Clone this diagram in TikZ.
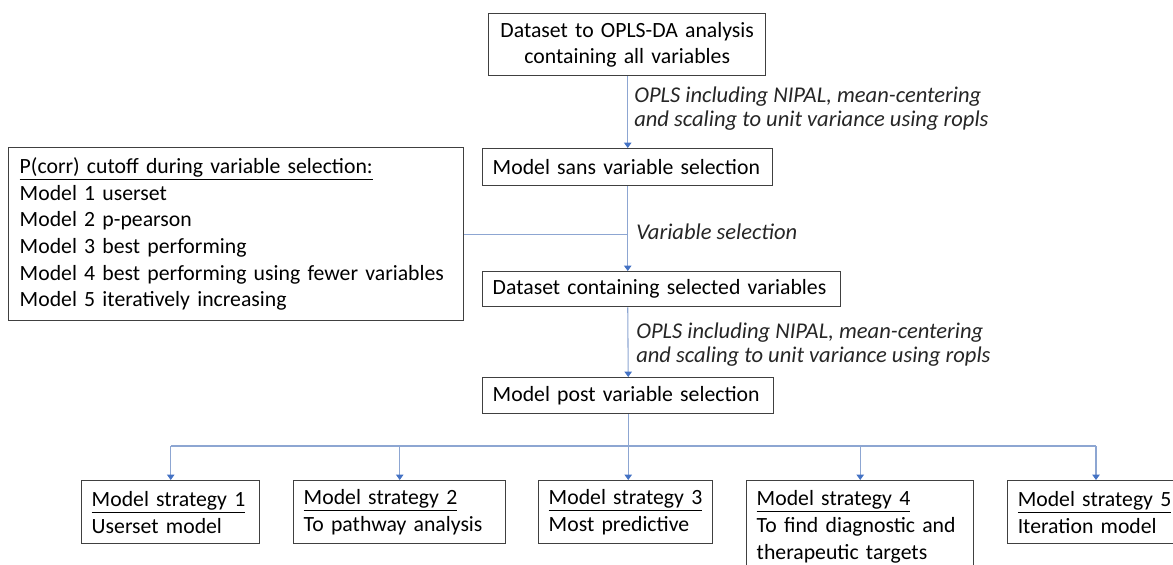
\documentclass[tikz,border=0pt]{standalone}
\usepackage{fontspec}
\setmainfont{Carlito}
\usetikzlibrary{arrows.meta}
\definecolor{boxc}{HTML}{404040}
\definecolor{linec}{HTML}{8DA6D2}
\definecolor{tipc}{HTML}{4472C4}
\newcommand{\fs}{\fontsize{16.3}{20}\selectfont}
\newcommand{\fsi}{\fontsize{16.9}{18}\selectfont\itshape}
\newcommand{\ul}[1]{\underline{#1}}
\tikzset{
  box/.style={draw=boxc, line width=1.1pt, inner xsep=7.5pt, inner ysep=0pt,
    anchor=north west, align=left, font=\fs, text=black},
  conn/.style={draw=linec, line width=0.8pt},
  arr/.style={conn, -{Triangle[width=5.5pt,length=4pt,color=tipc]}},
  lbl/.style={anchor=west, align=left, font=\fsi, inner sep=0pt, text=black!85}
}
\begin{document}
\begin{tikzpicture}[x=0.75pt,y=-0.75pt]
\useasboundingbox (0,0) rectangle (1173,564);
\clip (0,0) rectangle (1173,564);
\node[box, align=center, text width=192.75pt, minimum height=46.5pt] (top) at (488,13)
  {\mbox{Dataset to OPLS-DA analysis}\\[-0.5pt]\mbox{containing all variables}};
\node[box, text width=202.5pt, minimum height=27.75pt] (sans) at (482,148)
  {\mbox{Model sans variable selection}};
\node[box, text width=253.5pt, minimum height=26.25pt] (ds) at (482,271)
  {\mbox{Dataset containing selected variables}};
\node[box, text width=203.25pt, minimum height=27pt] (post) at (482,377)
  {\mbox{Model post variable selection}};
\node[box, inner xsep=8.25pt, text width=324.75pt, minimum height=129.75pt] (lbox) at (8,147)
  {\mbox{\ul{P(corr) cutoff during variable selection:}}\\
   \mbox{Model 1 userset}\\
   \mbox{Model 2 p-pearson}\\
   \mbox{Model 3 best performing}\\
   \mbox{Model 4 best performing using fewer variables}\\
   \mbox{Model 5 iteratively increasing}};
\node[box, text width=118.5pt, minimum height=47.25pt] (b1) at (81,480)
  {\mbox{\ul{Model strategy 1}}\\\mbox{Userset model}};
\node[box, text width=144pt, minimum height=47.25pt] (b2) at (293,480)
  {\mbox{\ul{Model strategy 2}}\\\mbox{To pathway analysis}};
\node[box, text width=115.5pt, minimum height=47.25pt] (b3) at (538,480)
  {\mbox{\ul{Model strategy 3}}\\\mbox{Most predictive}};
\node[box, text width=155.25pt, minimum height=69pt] (b4) at (746,480)
  {\mbox{\ul{Model strategy 4}}\\\mbox{To find diagnostic and}\\\mbox{therapeutic targets}};
\node[box, text width=118.5pt, minimum height=47.25pt] (b5) at (1007,480)
  {\mbox{\ul{Model strategy 5}}\\\mbox{Iteration model}};
% labels
\node[lbl] (l1) at (634,109) {OPLS including NIPAL, mean-centering\\and scaling to unit variance using ropls};
\node[lbl] (l2) at (636,232) {Variable selection};
\node[lbl] (l3) at (636,345) {OPLS including NIPAL, mean-centering\\and scaling to unit variance using ropls};
% connectors
\draw[arr] (top.south -| sans.south) -- (sans.north);
\coordinate (vs) at (sans.south |- lbox.east);
\draw[arr] (sans.south) -- (sans.south |- ds.north);
\draw[conn] (lbox.east) -- (vs);
\draw[arr] (sans.south |- ds.south) -- (post.north);
\coordinate (branch) at (post.south |- 0,446);
\draw[arr] (post.south) -- (post.south |- b3.north);
\draw[conn] (b1.north |- branch) -- (1096,446) coordinate (bend);
\draw[arr] (b1.north |- branch) -- (b1.north);
\draw[arr] (b2.north |- branch) -- (b2.north);
\draw[arr] (b4.north |- branch) -- (b4.north);
\draw[arr] (bend) -- (bend |- b5.north);
\end{tikzpicture}
\end{document}
